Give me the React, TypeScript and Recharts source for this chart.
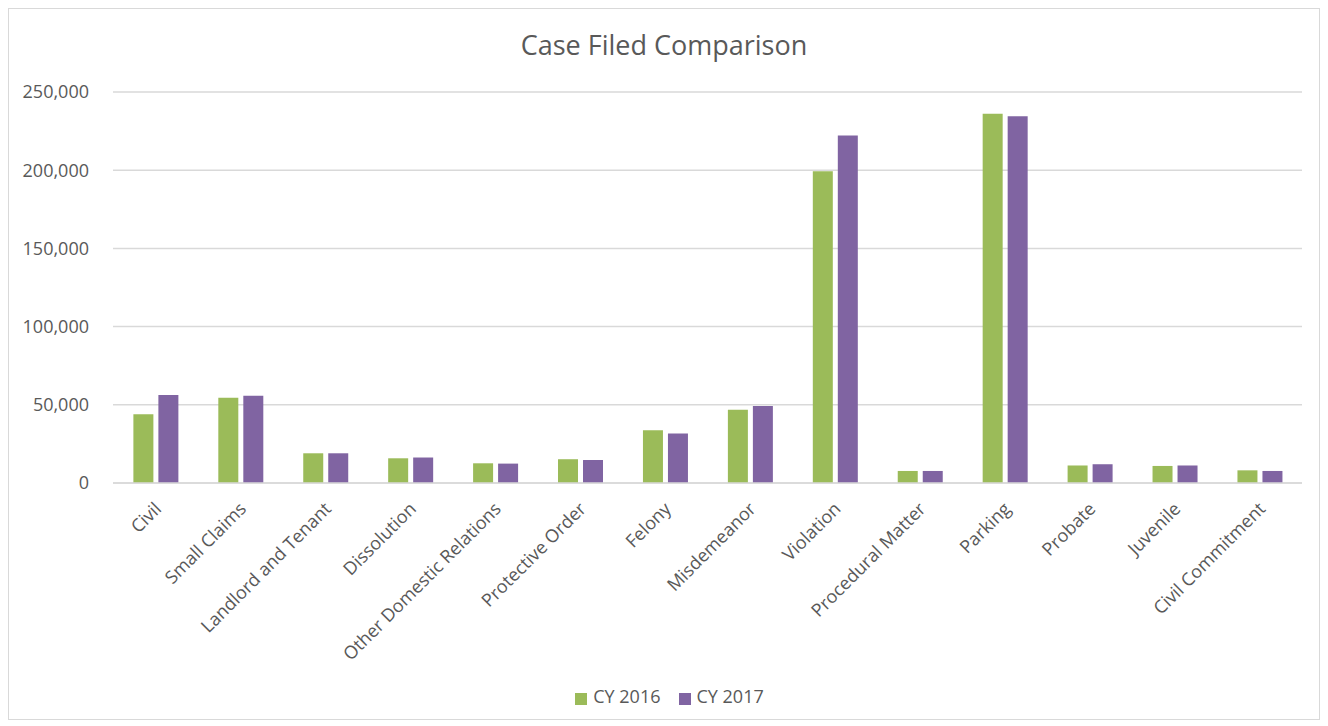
import React from "react";
import { BarChart, Bar, XAxis, YAxis, CartesianGrid, Legend } from "recharts";

const categories = [
  "Civil",
  "Small Claims",
  "Landlord and Tenant",
  "Dissolution",
  "Other Domestic Relations",
  "Protective Order",
  "Felony",
  "Misdemeanor",
  "Violation",
  "Procedural Matter",
  "Parking",
  "Probate",
  "Juvenile",
  "Civil Commitment",
];
const cy2016 = [44000, 54500, 19000, 15800, 12600, 15200, 33800, 46800, 199400, 7700, 236100, 11200, 10900, 8100];
const cy2017 = [56200, 55800, 19000, 16300, 12400, 14700, 31700, 49200, 222200, 7700, 234500, 12000, 11200, 7700];
const yTicks = [0, 50000, 100000, 150000, 200000, 250000];

const data = categories.map((name, i) => ({ name, cy2016: cy2016[i], cy2017: cy2017[i] }));

const FONT = "'Open Sans', sans-serif";
const TEXT = "#595959";

const XTick = (props: any) => {
  const { x, y, payload } = props;
  return (
    <g transform={`translate(${x + 7},${y + 27})`}>
      <text x={0} y={0} textAnchor="end" transform="rotate(-45)" fill={TEXT} fontSize={18} fontFamily={FONT}>
        {payload.value}
      </text>
    </g>
  );
};

const fmt = (v: number) => v.toLocaleString("en-US");

export default function App() {
  return (
    <div
      style={{
        position: "relative",
        width: 1312,
        height: 712,
        border: "1px solid #d9d9d9",
        boxSizing: "border-box",
        background: "#fff",
      }}
    >
      <div
        style={{
          position: "absolute",
          left: 0,
          top: 19,
          width: "100%",
          textAlign: "center",
          fontFamily: FONT,
          fontSize: 27,
          color: TEXT,
          lineHeight: "34px",
        }}
      >
        Case Filed Comparison
      </div>
      <BarChart
        width={1310}
        height={710}
        data={data}
        margin={{ top: 83, right: 17, left: 0, bottom: 11 }}
        barCategoryGap="24%"
        barGap={5}
      >
        <CartesianGrid vertical={false} stroke="#d9d9d9" strokeWidth={1.5} />
        <XAxis
          dataKey="name"
          interval={0}
          tick={<XTick />}
          tickLine={false}
          axisLine={{ stroke: "#d9d9d9", strokeWidth: 1.5 }}
          tickSize={0}
          tickMargin={0}
          height={201}
        />
        <YAxis
          domain={[0, 250000]}
          ticks={yTicks}
          tickFormatter={fmt}
          axisLine={false}
          tickLine={false}
          tickSize={0}
          tickMargin={24}
          width={104}
          tick={{ fill: TEXT, fontSize: 18, fontFamily: FONT }}
        />
        <Legend
          verticalAlign="bottom"
          align="center"
          iconType="square"
          iconSize={12}
          wrapperStyle={{ left: 23 }}
          formatter={(value: string) => (
            <span style={{ color: TEXT, fontSize: 18, fontFamily: FONT, marginLeft: 2, marginRight: 8 }}>{value}</span>
          )}
        />
        <Bar dataKey="cy2016" name="CY 2016" fill="#9BBB59" isAnimationActive={false} />
        <Bar dataKey="cy2017" name="CY 2017" fill="#8064A2" isAnimationActive={false} />
      </BarChart>
    </div>
  );
}
